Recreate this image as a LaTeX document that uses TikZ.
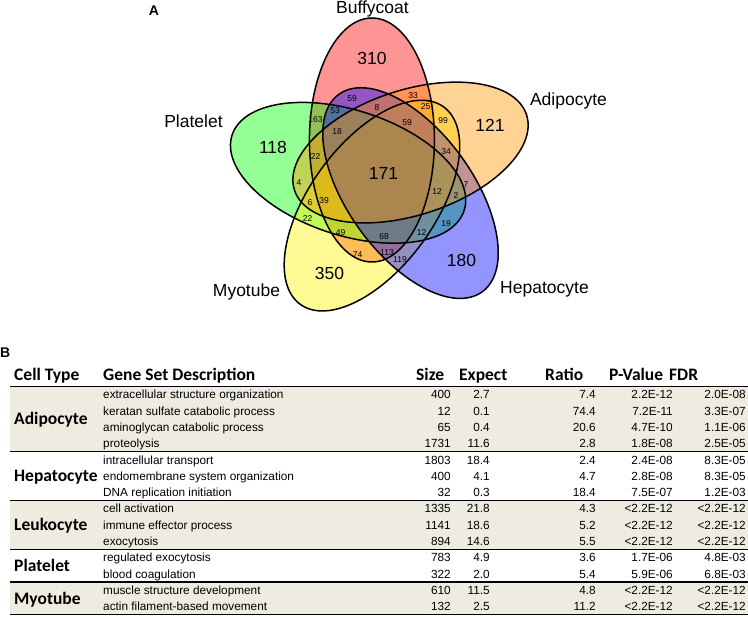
\documentclass[tikz,border=0pt]{standalone}
\usepackage{fontspec}
\setmainfont{Liberation Sans}
\newfontfamily\calibri{Carlito}
\usepackage{tikz}
\definecolor{setorange}{RGB}{255,150,0}
\definecolor{rowshade}{RGB}{238,236,225}
\newcommand{\vennMajor}{122pt}
\newcommand{\vennMinor}{62.5pt}
\newcommand{\tabLeft}{10}
\newcommand{\tabRight}{748}
\newcommand{\rowY}[1]{{386.5+16.3*(#1+0.5)}}
\newcommand{\sepY}[1]{{386.5+16.3*#1}}
\newcommand{\tabrow}[8]{%
  \node[cell,anchor=west] (#1-desc) at (103,\rowY{#2}) {#3};
  \node[cell,anchor=east] (#1-size) at (451,\rowY{#2}) {#4};
  \node[cell,anchor=east] (#1-exp) at (490,\rowY{#2}) {#5};
  \node[cell,anchor=east] (#1-ratio) at (596,\rowY{#2}) {#6};
  \node[cell,anchor=east] (#1-p) at (673,\rowY{#2}) {#7};
  \node[cell,anchor=east] (#1-fdr) at (746,\rowY{#2}) {#8};}

\begin{document}
\begin{tikzpicture}[x=1pt,y=-1pt,
  setfill/.style={fill opacity=.42},
  setline/.style={draw=black,line width=1.5pt},
  setname/.style={font=\fontsize{17.5}{20}\selectfont,inner sep=0pt,text height=12.5pt,text depth=0pt},
  bignum/.style={setname},
  smallnum/.style={font=\fontsize{8.5}{10}\selectfont,inner sep=0pt,text height=6.1pt,text depth=0pt},
  panel/.style={font=\bfseries\fontsize{14}{16}\selectfont,inner sep=0pt,text height=10pt,text depth=0pt},
  head/.style={font=\calibri\bfseries\fontsize{17.5}{20}\selectfont,inner sep=0pt,text height=11.3pt,text depth=0pt,anchor=west},
  cell/.style={font=\fontsize{11.8}{14}\selectfont,inner sep=0pt,text height=8.4pt,text depth=0pt},
  rule/.style={line width=1.2pt}]

\useasboundingbox (0,0) rectangle (748,617);

% A: five set venn, filled in the order Buffycoat, Platelet, Myotube, Hepatocyte, Adipocyte
\fill[red,setfill,rotate around={90:(371.94,140)}] (371.94,140) ellipse [x radius=\vennMajor, y radius=\vennMinor];
\fill[green,setfill,rotate around={162:(348.1,172.8)}] (348.1,172.8) ellipse [x radius=\vennMajor, y radius=\vennMinor];
\fill[yellow,setfill,rotate around={-126:(371.94,205.61)}] (371.94,205.61) ellipse [x radius=\vennMajor, y radius=\vennMinor];
\fill[blue,setfill,rotate around={-54:(410.51,193.08)}] (410.51,193.08) ellipse [x radius=\vennMajor, y radius=\vennMinor];
\fill[setorange,setfill,rotate around={18:(410.51,152.52)}] (410.51,152.52) ellipse [x radius=\vennMajor, y radius=\vennMinor];

\draw[setline,rotate around={90:(371.94,140)}] (371.94,140) ellipse [x radius=\vennMajor, y radius=\vennMinor];
\draw[setline,rotate around={162:(348.1,172.8)}] (348.1,172.8) ellipse [x radius=\vennMajor, y radius=\vennMinor];
\draw[setline,rotate around={-126:(371.94,205.61)}] (371.94,205.61) ellipse [x radius=\vennMajor, y radius=\vennMinor];
\draw[setline,rotate around={-54:(410.51,193.08)}] (410.51,193.08) ellipse [x radius=\vennMajor, y radius=\vennMinor];
\draw[setline,rotate around={18:(410.51,152.52)}] (410.51,152.52) ellipse [x radius=\vennMajor, y radius=\vennMinor];

\node[panel] (panelA) at (154,11) {A};
\node[setname] (buffy) at (372.5,7.5) {Buffycoat};
\node[setname] (plate) at (193.5,121) {Platelet};
\node[setname] (adipo) at (568.5,99) {Adipocyte};
\node[setname] (hepat) at (544.5,287) {Hepatocyte};
\node[setname] (myotu) at (246.5,290) {Myotube};

\node[bignum] (n310) at (372,58) {310};
\node[bignum] (n118) at (273,147) {118};
\node[bignum] (n121) at (490,125.5) {121};
\node[bignum] (n180) at (461.5,260.5) {180};
\node[bignum] (n350) at (329.5,273) {350};
\node[bignum] (n171) at (383.5,173) {171};

\node[smallnum] (n59a) at (352,98) {59};
\node[smallnum] (n33) at (413,95.5) {33};
\node[smallnum] (n8) at (377,107) {8};
\node[smallnum] (n25) at (425.5,106) {25};
\node[smallnum] (n53) at (335,110.5) {53};
\node[smallnum] (n163) at (315.5,119) {163};
\node[smallnum] (n59b) at (407,122.5) {59};
\node[smallnum] (n99) at (443,120.5) {99};
\node[smallnum] (n18) at (337,131.5) {18};
\node[smallnum] (n22a) at (315.5,156.5) {22};
\node[smallnum] (n34) at (446,151) {34};
\node[smallnum] (n4) at (299,182) {4};
\node[smallnum] (n7) at (466,184) {7};
\node[smallnum] (n12a) at (437,191) {12};
\node[smallnum] (n2) at (456,195) {2};
\node[smallnum] (n6) at (310,202) {6};
\node[smallnum] (n39) at (324,200) {39};
\node[smallnum] (n22b) at (307.5,218) {22};
\node[smallnum] (n19) at (446,223.5) {19};
\node[smallnum] (n49) at (340.5,232) {49};
\node[smallnum] (n68) at (384,236.5) {68};
\node[smallnum] (n12b) at (421.5,232) {12};
\node[smallnum] (n113) at (387,252) {113};
\node[smallnum] (n74) at (357.5,254.5) {74};
\node[smallnum] (n119) at (400,259.5) {119};

% B: enrichment table
\node[panel,anchor=west] (panelB) at (0,353) {B};

\fill[rowshade] (\tabLeft,\sepY{0}) rectangle (\tabRight,\sepY{4});
\fill[rowshade] (\tabLeft,\sepY{7}) rectangle (\tabRight,\sepY{10});
\fill[rowshade] (\tabLeft,\sepY{12}) rectangle (\tabRight,\sepY{14});

\node[head] (hCell) at (14,375) {Cell Type};
\node[head] (hDesc) at (103,375) {Gene Set Description};
\node[head] (hSize) at (416,375) {Size};
\node[head] (hExp) at (459,375) {Expect};
\node[head] (hRatio) at (545,375) {Ratio};
\node[head] (hP) at (609,375) {P-Value};
\node[head] (hFdr) at (669,375) {FDR};

\draw[line width=1.6pt] (\tabLeft,\sepY{0}) -- (\tabRight,\sepY{0});
\draw[rule] (\tabLeft,\sepY{4}) -- (\tabRight,\sepY{4});
\draw[rule] (\tabLeft,\sepY{7}) -- (\tabRight,\sepY{7});
\draw[rule] (\tabLeft,\sepY{10}) -- (\tabRight,\sepY{10});
\draw[rule] (\tabLeft,\sepY{12}) -- (\tabRight,\sepY{12});
\draw[rule] (\tabLeft,\sepY{14}) -- (\tabRight,\sepY{14});

\node[head] (tAdipo) at (14,{386.5+16.3*2}) {Adipocyte};
\node[head] (tHepat) at (14,\rowY{5}) {Hepatocyte};
\node[head] (tLeuko) at (14,\rowY{8}) {Leukocyte};
\node[head] (tPlate) at (14,{386.5+16.3*11}) {Platelet};
\node[head] (tMyotu) at (14,{386.5+16.3*13}) {Myotube};

\tabrow{r0}{0}{extracellular structure organization}{400}{2.7}{7.4}{2.2E-12}{2.0E-08}
\tabrow{r1}{1}{keratan sulfate catabolic process}{12}{0.1}{74.4}{7.2E-11}{3.3E-07}
\tabrow{r2}{2}{aminoglycan catabolic process}{65}{0.4}{20.6}{4.7E-10}{1.1E-06}
\tabrow{r3}{3}{proteolysis}{1731}{11.6}{2.8}{1.8E-08}{2.5E-05}
\tabrow{r4}{4}{intracellular transport}{1803}{18.4}{2.4}{2.4E-08}{8.3E-05}
\tabrow{r5}{5}{endomembrane system organization}{400}{4.1}{4.7}{2.8E-08}{8.3E-05}
\tabrow{r6}{6}{DNA replication initiation}{32}{0.3}{18.4}{7.5E-07}{1.2E-03}
\tabrow{r7}{7}{cell activation}{1335}{21.8}{4.3}{<2.2E-12}{<2.2E-12}
\tabrow{r8}{8}{immune effector process}{1141}{18.6}{5.2}{<2.2E-12}{<2.2E-12}
\tabrow{r9}{9}{exocytosis}{894}{14.6}{5.5}{<2.2E-12}{<2.2E-12}
\tabrow{r10}{10}{regulated exocytosis}{783}{4.9}{3.6}{1.7E-06}{4.8E-03}
\tabrow{r11}{11}{blood coagulation}{322}{2.0}{5.4}{5.9E-06}{6.8E-03}
\tabrow{r12}{12}{muscle structure development}{610}{11.5}{4.8}{<2.2E-12}{<2.2E-12}
\tabrow{r13}{13}{actin filament-based movement}{132}{2.5}{11.2}{<2.2E-12}{<2.2E-12}
\end{tikzpicture}
\end{document}
